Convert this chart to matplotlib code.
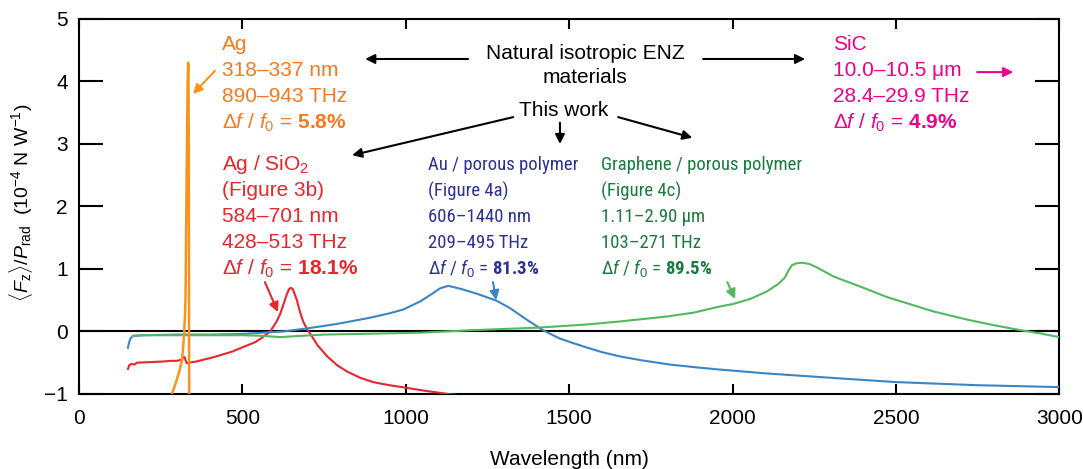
import numpy as np
import matplotlib
matplotlib.use("Agg")
import matplotlib.pyplot as plt
from matplotlib import font_manager

installed = {f.name for f in font_manager.fontManager.ttflist}
narrow, narrow_size = 'Liberation Sans', 12.5
for cand in ['Liberation Sans Narrow', 'Roboto Condensed', 'Arial Narrow', 'DejaVu Sans Condensed']:
    if cand in installed:
        narrow, narrow_size = cand, 13.5
        break

plt.rcParams['font.family'] = ['Liberation Sans', 'DejaVu Sans']
plt.rcParams['mathtext.fontset'] = 'custom'
plt.rcParams['mathtext.rm'] = 'Liberation Sans'
plt.rcParams['mathtext.it'] = 'Liberation Sans:italic'
plt.rcParams['mathtext.bf'] = 'Liberation Sans:bold'
# faces for the two "this work" blocks on the right (narrower type in the original)
plt.rcParams['mathtext.cal'] = narrow + ':italic'
plt.rcParams['mathtext.sf'] = narrow + ':bold'

# --- data (wavelength in nm, force in 1e-4 N/W) ---
ag_wl = [278, 290, 299, 308, 315, 319, 321, 324, 326, 327.5, 329, 331, 332.5, 334, 335, 336, 336.6, 337, 337.4]
ag_f = [-1.1, -0.92, -0.78, -0.62, -0.46, -0.25, -0.09, 0.2, 0.5, 1.3, 2.2, 3.2, 3.9, 4.3, 4.25, 3.2, 1.5, 0.0, -1.2]

agsio2_wl = [150, 154, 160, 170, 177, 220, 260, 280, 300, 315, 319, 323, 327, 330, 335, 360, 420, 470, 502, 540,
             560, 585, 605, 615, 625, 635, 643, 649, 655, 667, 676, 686, 697, 707, 730, 760, 790, 820, 860,
             900, 950, 1000, 1060, 1130, 1200]
agsio2_f = [-0.6, -0.54, -0.52, -0.53, -0.5, -0.49, -0.48, -0.47, -0.47, -0.45, -0.41, -0.41, -0.47, -0.51, -0.5,
            -0.48, -0.4, -0.32, -0.25, -0.17, -0.1, 0.0, 0.16, 0.27, 0.42, 0.58, 0.68, 0.7, 0.67, 0.5, 0.32,
            0.16, 0.05, -0.03, -0.22, -0.4, -0.54, -0.64, -0.74, -0.81, -0.86, -0.9, -0.95, -1.0, -1.04]

au_wl = [150, 153, 158, 165, 200, 300, 400, 500, 560, 625, 700, 789, 891, 950, 992, 1044, 1080, 1105, 1130,
         1170, 1220, 1279, 1320, 1370, 1420, 1470, 1503, 1550, 1600, 1656, 1720, 1809, 1900, 1962, 2100,
         2268, 2500, 2750, 3000]
au_f = [-0.26, -0.18, -0.11, -0.07, -0.06, -0.05, -0.05, -0.04, -0.02, 0.0, 0.05, 0.12, 0.22, 0.29, 0.35, 0.48,
        0.6, 0.69, 0.73, 0.68, 0.6, 0.49, 0.37, 0.19, 0.02, -0.11, -0.17, -0.25, -0.33, -0.4, -0.46, -0.53,
        -0.58, -0.61, -0.67, -0.73, -0.81, -0.86, -0.89]

gr_wl = [165, 200, 300, 400, 500, 560, 615, 680, 750, 850, 1044, 1200, 1401, 1550, 1656, 1800, 1880, 1962,
         2002, 2054, 2105, 2140, 2160, 2172, 2182, 2195, 2213, 2235, 2260, 2309, 2400, 2473, 2615, 2718,
         2800, 2871, 2940, 3000]
gr_f = [-0.07, -0.06, -0.06, -0.06, -0.06, -0.07, -0.09, -0.07, -0.05, -0.04, -0.02, 0.02, 0.06, 0.11, 0.16,
        0.24, 0.3, 0.4, 0.44, 0.52, 0.64, 0.76, 0.86, 0.98, 1.06, 1.09, 1.1, 1.08, 1.02, 0.88, 0.7, 0.55,
        0.32, 0.19, 0.1, 0.03, -0.03, -0.09]

x_ticks = [0, 500, 1000, 1500, 2000, 2500, 3000]
y_ticks = [-1, 0, 1, 2, 3, 4, 5]

c_ag = '#F7941D'
c_red = '#E8262C'
c_blue = '#3A86C5'
c_green = '#52B95E'
t_ag = '#F47920'
t_blue = '#2E3192'
t_green = '#197B3E'
t_sic = '#EC008C'

fig = plt.figure(figsize=(10.83, 4.69), dpi=100)
ax = fig.add_axes([0.0729, 0.160, 0.9052, 0.7995])

ax.axhline(0, color='k', lw=1.5, zorder=1)
ax.plot(agsio2_wl, agsio2_f, color=c_red, lw=1.5, zorder=3)
ax.plot(au_wl, au_f, color=c_blue, lw=1.5, zorder=3)
ax.plot(gr_wl, gr_f, color=c_green, lw=1.5, zorder=3)
ax.plot(ag_wl, ag_f, color=c_ag, lw=1.8, zorder=4)

ax.set_xlim(0, 3000)
ax.set_ylim(-1, 5)
ax.set_xticks(x_ticks)
ax.set_yticks(y_ticks)
ax.tick_params(axis='both', direction='in', top=True, right=True, labelsize=15, width=1.5, pad=8)
ax.tick_params(axis='x', length=7, pad=11)
ax.tick_params(axis='y', length=17)
for sp in ax.spines.values():
    sp.set_linewidth(1.5)

ax.set_xlabel('Wavelength (nm)', fontsize=15, labelpad=16)
ax.set_ylabel(r'$\langle F_{\rm z}\rangle/P_{\rm rad}$  (10$^{-4}$ N W$^{-1}$)', fontsize=14)
ax.yaxis.set_label_coords(-0.045, 0.51)


def block(x, y0, lines, color, size=15, family=None, step=0.416):
    for i, s in enumerate(lines):
        ax.text(x, y0 - i * step, s, color=color, fontsize=size, va='baseline', ha='left',
                family=family)


def df(val):
    return r'$\Delta$$f$ / $f_0$ = $\mathbf{' + val + r'\%}$'


def df_narrow(val):
    return r'Δ$\mathcal{f}$ / $\mathcal{f}_0$ = $\mathsf{' + val + r'\%}$'


block(438, 4.496, ['Ag', '318–337 nm', '890–943 THz', df('5.8')], t_ag)
block(438, 2.576, [r'Ag / SiO$_2$', '(Figure 3b)', '584–701 nm', '428–513 THz', df('18.1')], c_red)
block(1068, 2.576, ['Au / porous polymer', '(Figure 4a)', '606–1440 nm', '209–495 THz', df_narrow('81.3')],
      t_blue, size=narrow_size, family=[narrow, 'DejaVu Sans'])
block(1598, 2.576, ['Graphene / porous polymer', '(Figure 4c)', '1.11–2.90 μm', '103–271 THz', df_narrow('89.5')],
      t_green, size=narrow_size, family=[narrow, 'DejaVu Sans'])
block(2308, 4.496, ['SiC', '10.0–10.5 μm', '28.4–29.9 THz', df('4.9')], t_sic)

ax.text(1549, 4.352, 'Natural isotropic ENZ', fontsize=15, ha='center', va='baseline')
ax.text(1549, 3.968, 'materials', fontsize=15, ha='center', va='baseline')
ax.text(1482, 3.44, 'This work', fontsize=15, ha='center', va='baseline')


def arrow(x0, y0, x1, y1, color='k'):
    ax.annotate('', xy=(x1, y1), xytext=(x0, y0),
                arrowprops=dict(arrowstyle='-|>', lw=1.5, color=color, mutation_scale=14,
                                shrinkA=0, shrinkB=0))


arrow(1191, 4.36, 876, 4.36)
arrow(1910, 4.36, 2222, 4.36)
arrow(1329, 3.43, 836, 2.82)
arrow(1472, 3.34, 1472, 3.0)
arrow(1650, 3.43, 1877, 3.10)
arrow(416, 4.17, 349, 3.80, c_ag)
arrow(2749, 4.15, 2859, 4.15, t_sic)
arrow(569, 0.79, 609, 0.31, c_red)
arrow(1267, 0.79, 1277, 0.50, c_blue)
arrow(1984, 0.79, 2008, 0.52, c_green)

fig.savefig('out.png', dpi=100)
